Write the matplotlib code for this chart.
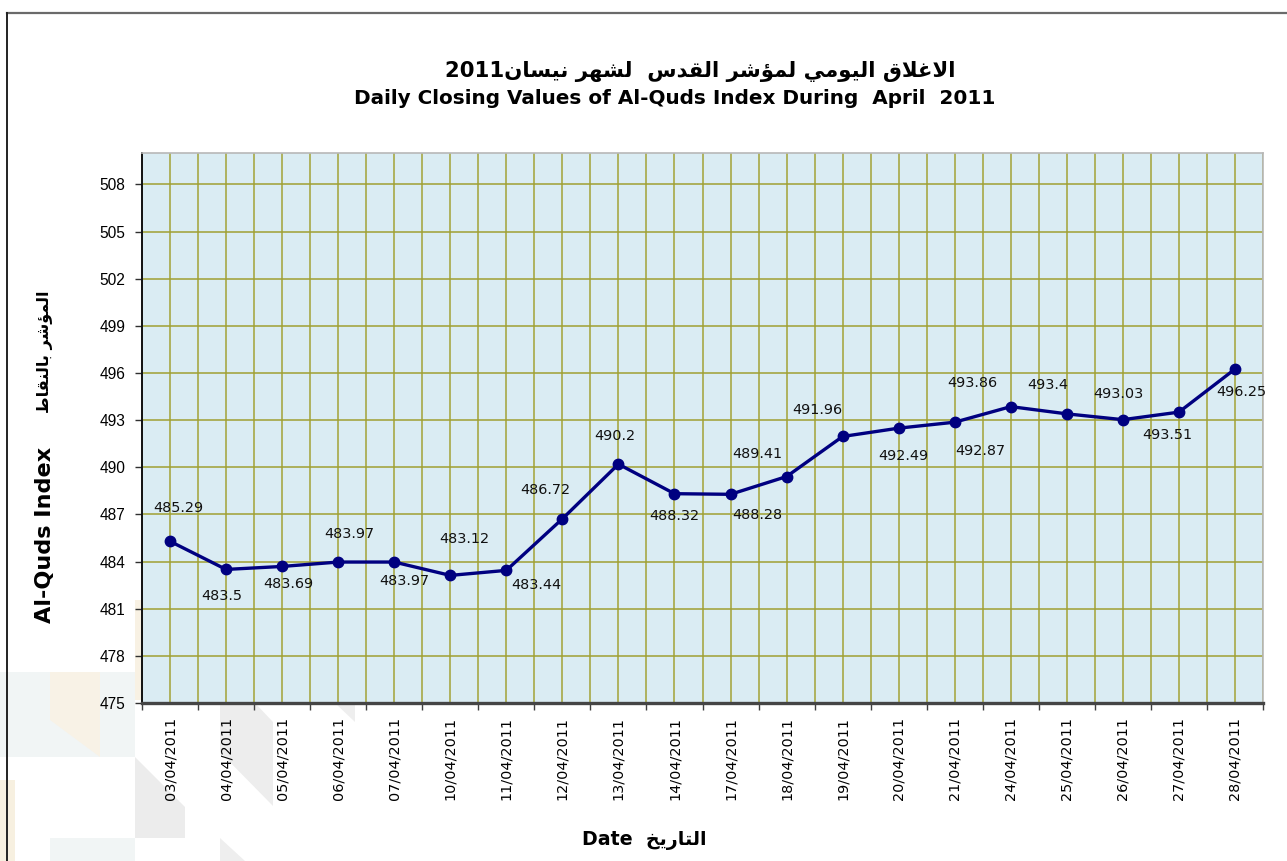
import matplotlib
matplotlib.use("Agg")
import matplotlib.pyplot as plt
import numpy as np
from matplotlib.patches import Polygon
from matplotlib.lines import Line2D

# ---------------- data ----------------
dates = ["03/04/2011", "04/04/2011", "05/04/2011", "06/04/2011", "07/04/2011",
         "10/04/2011", "11/04/2011", "12/04/2011", "13/04/2011", "14/04/2011",
         "17/04/2011", "18/04/2011", "19/04/2011", "20/04/2011", "21/04/2011",
         "24/04/2011", "25/04/2011", "26/04/2011", "27/04/2011", "28/04/2011"]
values = [485.29, 483.5, 483.69, 483.97, 483.97,
          483.12, 483.44, 486.72, 490.2, 488.32,
          488.28, 489.41, 491.96, 492.49, 492.87,
          493.86, 493.4, 493.03, 493.51, 496.25]
yticks = [475, 478, 481, 484, 487, 490, 493, 496, 499, 502, 505, 508]

title_ar = "الاغلاق اليومي لمؤشر القدس  لشهر نيسان"
title_year = "2011"
title_en = "Daily Closing Values of Al-Quds Index During  April  2011"
xlabel_en = "Date"
xlabel_ar = "التاريخ"
ylabel_en = "Al-Quds Index"
ylabel_ar = "المؤشر بالنقاط"

# label offsets in pixels (dx, dy up) - layout only
label_offsets = [(8, 33), (-4, -27), (6, -18), (11, 28), (10, -19),
                 (14, 36), (30, -15), (-17, 29), (-4, 28), (0, -22),
                 (27, -21), (-29, 23), (-25, 26), (5, -28), (26, -29),
                 (-38, 24), (-19, 29), (-5, 26), (-12, -23), (6, -23)]

# ---------------- minimal Arabic shaping (presentation forms) ----------------
AR_FORMS = {
    "\u0627": ("\uFE8D", "\uFE8E", None, None),
    "\u0624": ("\uFE85", "\uFE86", None, None),
    "\u0628": ("\uFE8F", "\uFE90", "\uFE91", "\uFE92"),
    "\u062A": ("\uFE95", "\uFE96", "\uFE97", "\uFE98"),
    "\u062E": ("\uFEA5", "\uFEA6", "\uFEA7", "\uFEA8"),
    "\u062F": ("\uFEA9", "\uFEAA", None, None),
    "\u0631": ("\uFEAD", "\uFEAE", None, None),
    "\u0633": ("\uFEB1", "\uFEB2", "\uFEB3", "\uFEB4"),
    "\u0634": ("\uFEB5", "\uFEB6", "\uFEB7", "\uFEB8"),
    "\u0637": ("\uFEC1", "\uFEC2", "\uFEC3", "\uFEC4"),
    "\u063A": ("\uFECD", "\uFECE", "\uFECF", "\uFED0"),
    "\u0642": ("\uFED5", "\uFED6", "\uFED7", "\uFED8"),
    "\u0644": ("\uFEDD", "\uFEDE", "\uFEDF", "\uFEE0"),
    "\u0645": ("\uFEE1", "\uFEE2", "\uFEE3", "\uFEE4"),
    "\u0646": ("\uFEE5", "\uFEE6", "\uFEE7", "\uFEE8"),
    "\u0647": ("\uFEE9", "\uFEEA", "\uFEEB", "\uFEEC"),
    "\u0648": ("\uFEED", "\uFEEE", None, None),
    "\u064A": ("\uFEF1", "\uFEF2", "\uFEF3", "\uFEF4"),
}


def _joins_next(c):
    return c in AR_FORMS and AR_FORMS[c][2] is not None


def shape_ar(s):
    out = []
    prev = None
    i = 0
    n = len(s)
    while i < n:
        c = s[i]
        if c == "\u0644" and i + 1 < n and s[i + 1] == "\u0627":
            cp = prev is not None and _joins_next(prev)
            out.append("\uFEFC" if cp else "\uFEFB")
            prev = "\u0627"
            i += 2
            continue
        if c in AR_FORMS:
            iso, fin, ini, med = AR_FORMS[c]
            cp = prev is not None and _joins_next(prev)
            nxt = s[i + 1] if i + 1 < n else None
            cn = ini is not None and nxt in AR_FORMS
            if cp and cn:
                f = med
            elif cp:
                f = fin
            elif cn:
                f = ini
            else:
                f = iso
            out.append(f)
        else:
            out.append(c)
        prev = c
        i += 1
    return "".join(reversed(out))


# ---------------- figure ----------------
W, H = 1287, 861
fig = plt.figure(figsize=(W / 100, H / 100), dpi=100)
fig.patch.set_facecolor("white")


def fx(x):
    return x / W


def fy(y):
    return 1 - y / H


# faint decorative background shapes (bottom-left), drawn behind everything
deco = [
    ([(0, 672), (135, 672), (135, 757), (0, 757)], "#f1f5f5"),
    ([(50, 672), (100, 672), (100, 757), (50, 720)], "#f8f2e6"),
    ([(135, 757), (185, 807), (185, 838), (135, 838)], "#ececec"),
    ([(0, 780), (15, 780), (15, 861), (0, 861)], "#f7f0e0"),
    ([(50, 838), (135, 838), (135, 861), (50, 861)], "#f1f5f5"),
    ([(220, 703), (255, 703), (273, 722), (273, 806), (220, 752)], "#ededed"),
    ([(135, 600), (142, 600), (142, 700), (135, 700)], "#f8f1e3"),
    ([(220, 838), (245, 861), (220, 861)], "#eeeeee"),
    ([(335, 703), (355, 703), (355, 722)], "#eeeeee"),
]
for pts, col in deco:
    fig.patches.append(Polygon([(fx(x), fy(y)) for x, y in pts], closed=True,
                               transform=fig.transFigure, facecolor=col,
                               edgecolor="none", zorder=-5))

# outer frame
fig.add_artist(Line2D([fx(7), fx(1287)], [fy(13), fy(13)], color="#6a6a6a", lw=1.6,
                      transform=fig.transFigure))
fig.add_artist(Line2D([fx(7), fx(7)], [fy(13), fy(861)], color="#222222", lw=1.4,
                      transform=fig.transFigure))

L, R, T, B = 142, 1263, 153, 703
ax = fig.add_axes([fx(L), fy(B), (R - L) / W, (B - T) / H])
ax.set_facecolor("#daecf3")
ax.set_xlim(-0.5, len(dates) - 0.5)
ax.set_ylim(475, 510)

x = np.arange(len(dates))
ax.plot(x, values, color="#000080", lw=2.4, marker="o", markersize=7.5, zorder=5,
        clip_on=False)

# grid
ax.set_xticks(np.arange(-0.5, len(dates), 1.0))
ax.set_xticks(x, minor=True)
ax.set_xticklabels(dates, minor=True, rotation=90, fontsize=10.4,
                   fontfamily="DejaVu Sans")
ax.set_xticklabels([""] * len(ax.get_xticks()))
ax.tick_params(axis="x", which="major", length=5, width=1, color="#404040")
ax.tick_params(axis="x", which="minor", length=0, pad=10)
ax.set_yticks(yticks)
ax.set_yticklabels([str(t) for t in yticks], fontsize=11.2, fontfamily="Liberation Sans")
ax.tick_params(axis="y", length=5, width=1, color="#303030", pad=7)
ax.grid(True, axis="x", which="both", color="#a2a236", lw=1.1)
ax.grid(True, axis="y", which="major", color="#a0a032", lw=1.1)
ax.set_axisbelow(True)

for side in ("top", "right"):
    ax.spines[side].set_color("#b8b8b8")
    ax.spines[side].set_linewidth(1.2)
ax.spines["left"].set_color("#111111")
ax.spines["left"].set_linewidth(1.4)
ax.spines["bottom"].set_color("#454545")
ax.spines["bottom"].set_linewidth(2.4)

# data labels
for i, (v, (dx, dy)) in enumerate(zip(values, label_offsets)):
    ax.annotate(f"{v:g}", (x[i], v), xytext=(dx, dy), textcoords="offset pixels",
                ha="center", va="center", fontsize=10.4, fontfamily="DejaVu Sans",
                color="#111111", zorder=6, annotation_clip=False)

# ---------------- titles and axis labels ----------------
renderer = fig.canvas.get_renderer()


def fitted_text(xp, yp, s, target_w, rotation=0, family="DejaVu Sans"):
    t = fig.text(fx(xp), fy(yp), s, ha="center", va="center", fontweight="bold",
                 fontfamily=family, fontsize=12, rotation=rotation)
    w, h, d = renderer.get_text_width_height_descent(s, t.get_fontproperties(), ismath=False)
    t.set_fontsize(12 * target_w / w)
    return t


fitted_text(700, 72, title_year + shape_ar(title_ar), 510)
fitted_text(675, 98, title_en, 640)
fitted_text(644, 840, xlabel_en + "  " + shape_ar(xlabel_ar), 124)
fitted_text(45, 535, ylabel_en, 176, rotation=90)
fitted_text(45, 352, shape_ar(ylabel_ar), 122, rotation=90)

fig.savefig("out.png", dpi=100)
